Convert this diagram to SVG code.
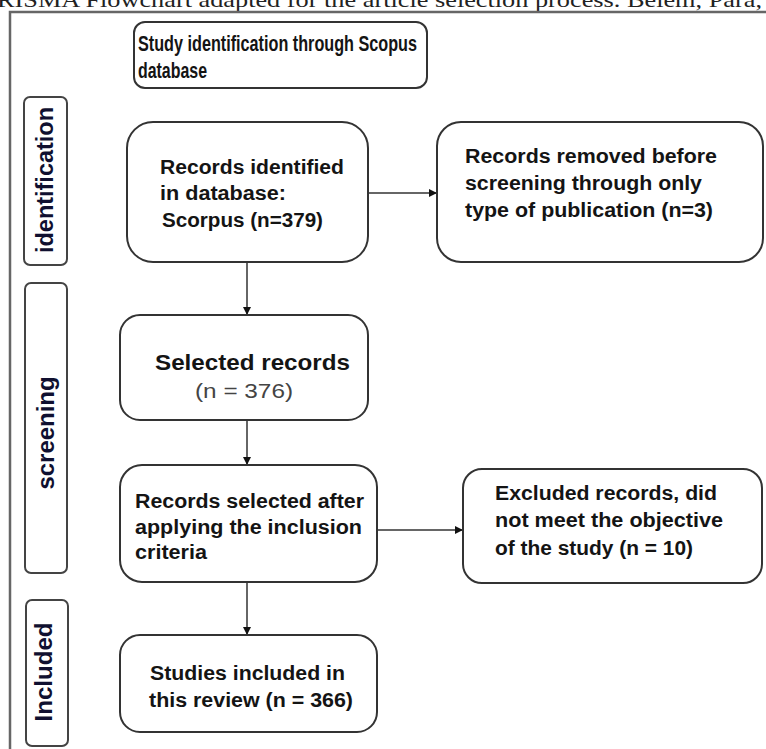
<svg xmlns="http://www.w3.org/2000/svg" width="766" height="749" viewBox="0 0 766 749">
<defs>
<style>
.box{fill:#fff;stroke:#333;stroke-width:2}
.lane{fill:#fff;stroke:#444;stroke-width:2}
.t{font-family:"Liberation Sans",Arial,sans-serif;font-weight:bold;font-size:20px;fill:#141414}
.tt{font-family:"Liberation Sans",Arial,sans-serif;font-weight:bold;font-size:22px;fill:#141414}
.lt{font-family:"Liberation Sans",Arial,sans-serif;font-weight:bold;font-size:23px;fill:#101030}
.n{font-family:"Liberation Sans",Arial,sans-serif;font-size:20px;fill:#444}
.cap{font-family:"Liberation Serif","Times New Roman",serif;font-size:22px;fill:#222}
.c{stroke:#333;stroke-width:1.5;fill:none}
</style>
<marker id="ah" viewBox="0 0 10 10" refX="10" refY="5" markerWidth="8" markerHeight="8" markerUnits="userSpaceOnUse" orient="auto">
<path d="M0,0 L10,5 L0,10 z" fill="#111"/>
</marker>
</defs>
<rect width="766" height="749" fill="#fff"/>
<text class="cap" x="-3" y="7" textLength="765" lengthAdjust="spacingAndGlyphs">RISMA Flowchart adapted for the article selection process. Belém, Pará,</text>
<g id="frame">
<path d="M10,749 V12 H766" fill="none" stroke="#666" stroke-width="2.5"/>
</g>
<g id="title">
<rect class="box" x="134" y="22" width="293" height="66" rx="11"/>
<text class="tt" x="138" y="51" textLength="279" lengthAdjust="spacingAndGlyphs">Study identification through Scopus</text>
<text class="tt" x="138" y="78" textLength="69" lengthAdjust="spacingAndGlyphs">database</text>
</g>
<g id="lane-identification">
<rect class="lane" x="24" y="97" width="43" height="168" rx="6"/>
<text class="lt" transform="translate(53,180) rotate(-90)" text-anchor="middle" textLength="146" lengthAdjust="spacingAndGlyphs">identification</text>
</g>
<g id="lane-screening">
<rect class="lane" x="25" y="283" width="42" height="290" rx="6"/>
<text class="lt" transform="translate(54,433) rotate(-90)" text-anchor="middle" textLength="113" lengthAdjust="spacingAndGlyphs">screening</text>
</g>
<g id="lane-included">
<rect class="lane" x="26" y="600" width="42" height="146" rx="6"/>
<text class="lt" transform="translate(52,672) rotate(-90)" text-anchor="middle" textLength="99" lengthAdjust="spacingAndGlyphs">Included</text>
</g>
<g id="connectors">
<line class="c" x1="368" y1="193" x2="437" y2="193" marker-end="url(#ah)"/>
<line class="c" x1="247" y1="262" x2="247" y2="315" marker-end="url(#ah)"/>
<line class="c" x1="247" y1="420" x2="247" y2="465" marker-end="url(#ah)"/>
<line class="c" x1="377" y1="530" x2="463" y2="530" marker-end="url(#ah)"/>
<line class="c" x1="247" y1="582" x2="247" y2="635" marker-end="url(#ah)"/>
</g>
<g id="records-identified">
<rect class="box" x="127" y="122" width="241" height="140" rx="26"/>
<text class="t" x="160" y="174" textLength="184" lengthAdjust="spacingAndGlyphs">Records identified</text>
<text class="t" x="160" y="200" textLength="126" lengthAdjust="spacingAndGlyphs">in database:</text>
<text class="t" x="162" y="227" textLength="161" lengthAdjust="spacingAndGlyphs">Scorpus (n=379)</text>
</g>
<g id="records-removed">
<rect class="box" x="437" y="122" width="326" height="140" rx="24"/>
<text class="t" x="465" y="163" textLength="252" lengthAdjust="spacingAndGlyphs">Records removed before</text>
<text class="t" x="465" y="190" textLength="237" lengthAdjust="spacingAndGlyphs">screening through only</text>
<text class="t" x="465" y="217" textLength="248" lengthAdjust="spacingAndGlyphs">type of publication (n=3)</text>
</g>
<g id="selected-records">
<rect class="box" x="120" y="315" width="248" height="105" rx="20"/>
<text class="t" x="155" y="370" style="font-size:22px" textLength="195" lengthAdjust="spacingAndGlyphs">Selected records</text>
<text class="n" x="195" y="398" textLength="98" lengthAdjust="spacingAndGlyphs">(n = 376)</text>
</g>
<g id="records-selected-after">
<rect class="box" x="120" y="465" width="257" height="117" rx="22"/>
<text class="t" x="135" y="508" textLength="229" lengthAdjust="spacingAndGlyphs">Records selected after</text>
<text class="t" x="135" y="534" textLength="227" lengthAdjust="spacingAndGlyphs">applying the inclusion</text>
<text class="t" x="135" y="559" textLength="72" lengthAdjust="spacingAndGlyphs">criteria</text>
</g>
<g id="excluded">
<rect class="box" x="463" y="469" width="299" height="114" rx="19"/>
<text class="t" x="495" y="500" textLength="222" lengthAdjust="spacingAndGlyphs">Excluded records, did</text>
<text class="t" x="495" y="527" textLength="228" lengthAdjust="spacingAndGlyphs">not meet the objective</text>
<text class="t" x="495" y="555" textLength="198" lengthAdjust="spacingAndGlyphs">of the study (n = 10)</text>
</g>
<g id="studies-included">
<rect class="box" x="120" y="635" width="257" height="97" rx="20"/>
<text class="t" x="150" y="680" textLength="195" lengthAdjust="spacingAndGlyphs">Studies included in</text>
<text class="t" x="149" y="707" textLength="204" lengthAdjust="spacingAndGlyphs">this review (n = 366)</text>
</g>
</svg>
